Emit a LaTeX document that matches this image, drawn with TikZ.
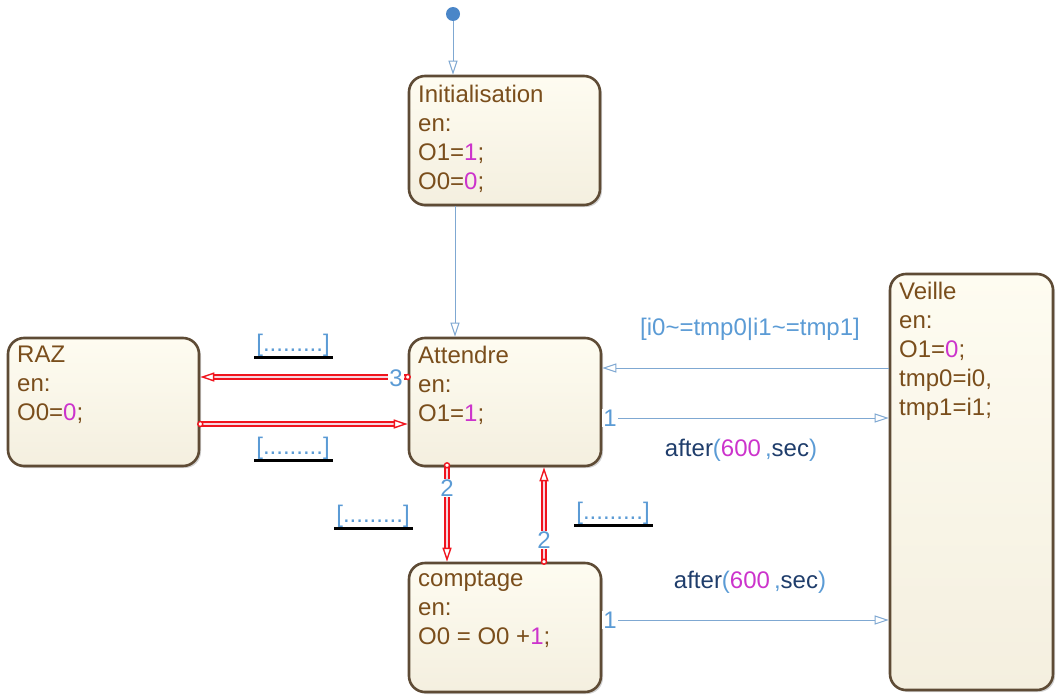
\documentclass[tikz,border=0pt]{standalone}
\usepackage{fontspec}
\setmainfont{Liberation Sans}
\usetikzlibrary{arrows.meta,shadows}
\definecolor{stbrd}{HTML}{5E4B35}
\definecolor{sttxt}{HTML}{7A4E1C}
\definecolor{num}{HTML}{CC33CC}
\definecolor{trblue}{HTML}{7FA8D2}
\definecolor{lblblue}{HTML}{5B9BD5}
\definecolor{navy}{HTML}{1F3D6B}
\definecolor{dotblue}{HTML}{4A86C8}
\definecolor{fillA}{HTML}{FEFCF1}
\definecolor{fillB}{HTML}{F4EFDF}
\definecolor{redtr}{HTML}{F0141E}
\definecolor{redin}{HTML}{F6D6E0}
\newcommand{\nm}[1]{\textcolor{num}{#1}}
\newcommand{\aftertxt}{\textcolor{navy}{after}\textcolor{lblblue}{(}\nm{600}\textcolor{lblblue}{\,,}\textcolor{navy}{sec}\textcolor{lblblue}{)}}
\begin{document}
\begin{tikzpicture}[x=1pt,y=-1pt,
  font=\fontsize{24}{29}\selectfont,
  state/.style={draw=stbrd, line width=2.6pt, rounded corners=16pt,
    top color=fillA, bottom color=fillB,
    drop shadow={opacity=0.35,shadow xshift=2pt,shadow yshift=-2pt},
    inner sep=0pt},
  stxt/.style={anchor=north west, align=left, text=sttxt, inner sep=0pt},
  tr/.style={draw=trblue, line width=1pt,
    -{Triangle[open,length=14pt,width=9pt,fill=white]}},
  rtr/.style={draw=redtr, line width=2.1pt, double=redin, double distance=1.1pt,
    -{Triangle[open,length=14pt,width=9pt,fill=white,line width=1.4pt]}},
  rdot/.style={circle, draw=redtr, fill=white, line width=1.4pt, minimum size=5pt, inner sep=0pt},
  nlbl/.style={text=lblblue, fill=white, inner sep=1pt},
  tlbl/.style={text=lblblue, inner sep=0pt},
  guard/.style={text=lblblue, inner sep=0pt, outer sep=0pt},
  ubar/.style={line width=3.5pt, draw=black}
]
\useasboundingbox (0,0) rectangle (1057,696);

% states
\node[state, minimum width=191pt, minimum height=129pt] (init) at (504.5,140.5) {};
\node[stxt] at (418,85) {Initialisation\\en:\\O1=\nm{1};\\O0=\nm{0};};

\node[state, minimum width=192pt, minimum height=128pt] (att) at (505,402) {};
\node[stxt] at (418,346) {Attendre\\en:\\O1=\nm{1};};

\node[state, minimum width=191pt, minimum height=128pt] (raz) at (103.5,402) {};
\node[stxt] at (17,346) {RAZ\\en:\\O0=\nm{0};};

\node[state, minimum width=192pt, minimum height=129pt] (cpt) at (505,627.5) {};
\node[stxt] at (418,571) {comptage\\en:\\O0 = O0 +\nm{1};};

\node[state, minimum width=163pt, minimum height=416pt] (veil) at (971.5,482) {};
\node[stxt] at (899,282) {Veille\\en:\\O1=\nm{0};\\tmp0=i0,\\tmp1=i1;};

% helper coordinates
\coordinate (x453) at (453,0);
\coordinate (x455) at (455,0);
\coordinate (x447) at (447,0);
\coordinate (x544) at (544,0);
\coordinate (y377) at (0,377);
\coordinate (y424) at (0,424);
\coordinate (y368) at (0,368);
\coordinate (y418) at (0,418);
\coordinate (y620) at (0,620);

% initial transition
\node[circle, fill=dotblue, minimum size=14pt, inner sep=0pt] (start) at (453,14) {};
\draw[tr] (start) -- (init.north -| x453);

% init -> attendre
\draw[tr] (init.south -| x455) -- (att.north -| x455);

% attendre -> RAZ
\draw[rtr] (att.west |- y377) -- (raz.east |- y377);
\node[rdot] at (att.west |- y377) {};
\node[nlbl] at (396,378) {3};
\node[guard] (g1) at (293,345) {[.........]};
\draw[ubar] ([xshift=-2pt,yshift=-1.5pt]g1.south west) -- ([xshift=3pt,yshift=-1.5pt]g1.south east);

% RAZ -> attendre
\draw[rtr] (raz.east |- y424) -- (att.west |- y424);
\node[rdot] at (raz.east |- y424) {};
\node[guard] (g2) at (293,448) {[.........]};
\draw[ubar] ([xshift=-2pt,yshift=-1.5pt]g2.south west) -- ([xshift=3pt,yshift=-1.5pt]g2.south east);

% attendre -> comptage
\draw[rtr] (att.south -| x447) -- (cpt.north -| x447);
\node[rdot] at ([yshift=2pt]att.south -| x447) {};
\node[nlbl] at (447,488) {2};
\node[guard] (g3) at (373,516) {[.........]};
\draw[ubar] ([xshift=-2pt,yshift=-1.5pt]g3.south west) -- ([xshift=3pt,yshift=-1.5pt]g3.south east);

% comptage -> attendre
\draw[rtr] (cpt.north -| x544) -- (att.south -| x544);
\node[rdot] at (cpt.north -| x544) {};
\node[nlbl] at (544,540) {2};
\node[guard] (g4) at (613,513) {[.........]};
\draw[ubar] ([xshift=-2pt,yshift=-1.5pt]g4.south west) -- ([xshift=3pt,yshift=-1.5pt]g4.south east);

% veille -> attendre
\draw[tr] (veil.west |- y368) -- (att.east |- y368);
\node[tlbl] at (750,329) {[i0\textasciitilde=tmp0|i1\textasciitilde=tmp1]};

% attendre -> veille
\draw[tr] (att.east |- y418) -- (veil.west |- y418);
\node[nlbl] at (610,418) {1};
\node[tlbl] at (741,450) {\aftertxt};

% comptage -> veille
\draw[tr] (cpt.east |- y620) -- (veil.west |- y620);
\node[nlbl] at (610,620) {1};
\node[tlbl] at (750,582) {\aftertxt};
\end{tikzpicture}
\end{document}
